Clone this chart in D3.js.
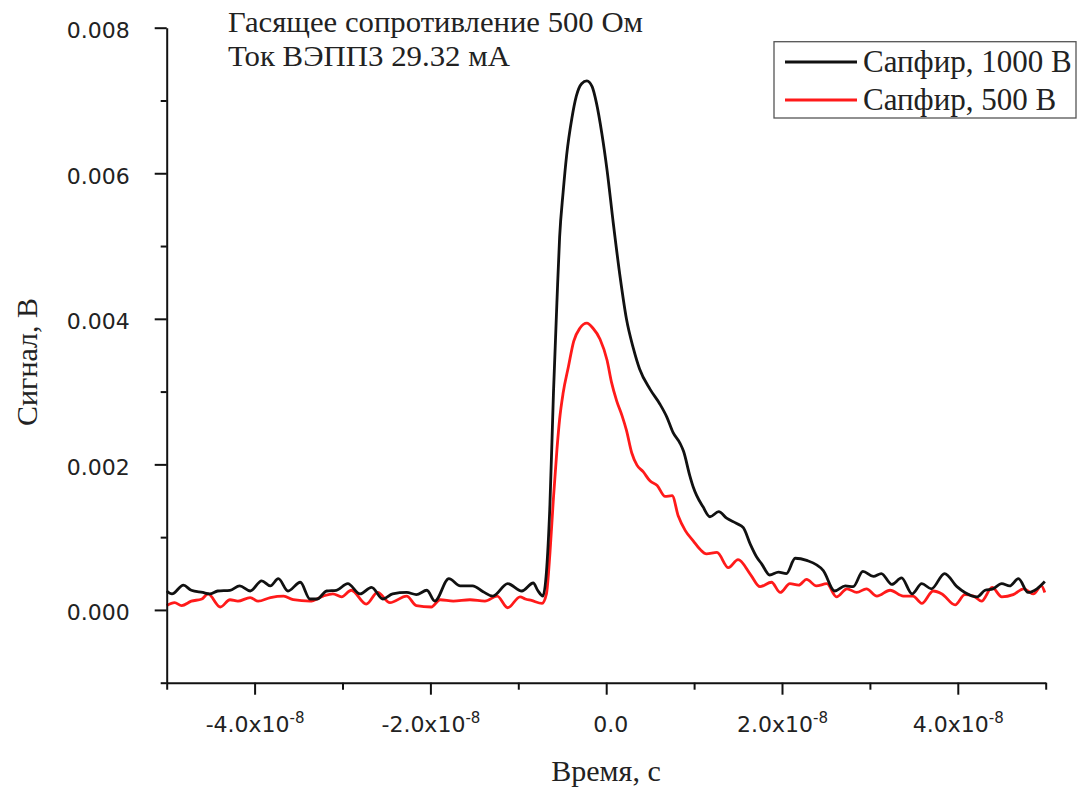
<!DOCTYPE html>
<html><head><meta charset="utf-8">
<script src="https://cdn.jsdelivr.net/npm/d3@7"></script>
<style>body{margin:0;background:#fff}</style>
</head><body>
<svg id="c" width="1083" height="793"></svg>
<script>
// time in ns, signal in mV
const time1000 = [-50.0,-49.4,-48.1,-47.2,-45.9,-45.1,-44.2,-42.8,-41.7,-40.5,-39.2,-38.2,-37.3,-36.2,-34.8,-33.7,-32.9,-31.8,-30.7,-29.4,-28.0,-26.7,-25.4,-24.3,-22.7,-21.6,-20.4,-19.5,-17.9,-16.6,-15.2,-14.0,-12.9,-11.2,-9.6,-8.3,-7.8,-7.2,-6.8,-6.4,-6.0,-5.6,-5.3,-4.9,-4.5,-3.9,-3.4,-2.8,-2.2,-1.6,-1.1,-0.5,0.1,0.8,1.6,2.3,3.1,3.8,5.0,6.1,6.9,7.6,8.4,8.8,9.5,9.9,10.3,11.0,11.8,12.8,13.7,14.8,15.6,16.4,17.1,17.7,18.6,19.6,20.5,21.5,22.8,24.7,26.0,27.2,28.1,29.2,30.4,31.3,32.5,33.6,34.8,35.9,37.0,38.5,39.9,40.8,42.2,43.1,44.0,45.0,45.9,46.9,48.0,49.0,49.9];
const signal1000 = [0.26,0.22,0.34,0.27,0.24,0.22,0.26,0.27,0.33,0.26,0.40,0.33,0.43,0.26,0.38,0.15,0.15,0.26,0.27,0.36,0.22,0.31,0.15,0.22,0.24,0.21,0.27,0.12,0.43,0.33,0.33,0.25,0.19,0.36,0.26,0.37,0.27,0.19,0.52,1.45,2.98,4.25,5.12,5.74,6.25,6.76,7.06,7.23,7.27,7.19,6.96,6.55,6.04,5.32,4.56,4.00,3.59,3.31,3.03,2.83,2.65,2.44,2.29,2.18,1.85,1.69,1.57,1.42,1.28,1.35,1.26,1.19,1.13,0.90,0.73,0.63,0.48,0.52,0.50,0.71,0.68,0.54,0.26,0.33,0.32,0.53,0.46,0.50,0.35,0.44,0.22,0.36,0.29,0.50,0.32,0.24,0.18,0.27,0.29,0.36,0.33,0.43,0.24,0.29,0.39];
const time500 = [-50.0,-49.1,-48.3,-47.2,-46.0,-45.3,-43.9,-42.8,-41.9,-40.5,-39.6,-38.2,-36.7,-35.6,-33.7,-32.2,-31.1,-30.1,-29.0,-27.3,-26.0,-24.6,-22.7,-21.6,-19.9,-18.9,-17.4,-15.5,-13.8,-12.4,-11.2,-9.8,-9.2,-8.5,-7.3,-6.8,-6.4,-6.0,-5.6,-5.3,-4.9,-4.3,-3.7,-3.0,-2.2,-1.5,-0.7,0.1,0.6,1.2,1.8,2.3,2.9,3.5,4.2,5.0,5.8,6.7,7.5,8.2,9.0,9.9,10.7,11.4,12.6,13.9,15.0,16.4,17.5,18.8,19.8,20.9,21.9,22.8,23.9,25.1,26.2,27.4,28.5,29.6,30.8,32.3,33.8,34.9,35.9,37.2,38.2,39.7,40.8,41.8,42.7,43.9,45.0,46.3,47.5,48.6,49.5,49.9];
const signal500 = [0.06,0.10,0.06,0.12,0.15,0.22,0.04,0.14,0.12,0.17,0.12,0.17,0.19,0.14,0.12,0.19,0.22,0.18,0.27,0.08,0.24,0.10,0.19,0.06,0.04,0.14,0.12,0.14,0.12,0.19,0.03,0.18,0.15,0.13,0.09,0.22,0.78,1.54,2.21,2.62,2.98,3.34,3.69,3.87,3.94,3.87,3.72,3.43,3.13,2.87,2.67,2.47,2.16,1.99,1.90,1.77,1.71,1.56,1.57,1.29,1.09,0.95,0.83,0.77,0.79,0.58,0.69,0.49,0.32,0.38,0.24,0.36,0.34,0.42,0.33,0.36,0.18,0.29,0.24,0.29,0.19,0.27,0.19,0.19,0.09,0.26,0.22,0.07,0.21,0.19,0.12,0.31,0.18,0.21,0.29,0.22,0.33,0.24];

const seriesNames = ["Сапфир, 1000 В", "Сапфир, 500 В"];
const seriesColors = ["#111111", "#ff1a1a"];
const annotationLines = ["Гасящее сопротивление 500 Ом", "Ток ВЭПП3 29.32 мА"];
const xTitle = "Время, с";
const yTitle = "Сигнал, В";
const xMajorNs = [-40, -20, 0, 20, 40];
const xMinorNs = [-50, -30, -10, 10, 30, 50];
const yMajorMV = [0, 2, 4, 6, 8];
const yMinorMV = [-1, 1, 3, 5, 7];

const svg = d3.select("#c");
const x = d3.scaleLinear().domain([-50, 50]).range([166.7, 1045.7]);
const y = d3.scaleLinear().domain([-1, 8]).range([682.7, 27.7]);

const tickFont = "'DejaVu Sans', Verdana, sans-serif";
const serif = "'Liberation Serif', 'Times New Roman', serif";

const line = d3.line().x(d => x(d[0])).y(d => y(d[1])).curve(d3.curveMonotoneX);
const series = [d3.zip(time1000, signal1000), d3.zip(time500, signal500)];
[1, 0].forEach(i => {
  svg.append("path").datum(series[i]).attr("d", line)
    .attr("fill", "none").attr("stroke", seriesColors[i])
    .attr("stroke-width", 2.8).attr("stroke-linejoin", "round");
});

// Y axis
const yMinor = svg.append("g").attr("transform", `translate(${x.range()[0]},0)`)
  .call(d3.axisLeft(y).tickValues(yMinorMV).tickSize(6).tickSizeOuter(0).tickFormat(""));
yMinor.select(".domain").remove();
const yAx = svg.append("g").attr("transform", `translate(${x.range()[0]},0)`)
  .call(d3.axisLeft(y).tickValues(yMajorMV).tickSize(12).tickSizeOuter(0).tickPadding(25)
    .tickFormat(d => (d / 1000).toFixed(3)));
yAx.selectAll("text").attr("font-family", tickFont).attr("font-size", 22).attr("fill", "#222").attr("dy", "0.45em");

// X axis
const xMinor = svg.append("g").attr("transform", `translate(0,${y.range()[0]})`)
  .call(d3.axisBottom(x).tickValues(xMinorNs).tickSize(7).tickSizeOuter(0).tickFormat(""));
xMinor.select(".domain").remove();
const xAx = svg.append("g").attr("transform", `translate(0,${y.range()[0]})`)
  .call(d3.axisBottom(x).tickValues(xMajorNs).tickSize(12).tickSizeOuter(0).tickFormat(""));
xAx.selectAll(".tick").each(function(d) {
  const t = d3.select(this).append("text").attr("y", 49).attr("text-anchor", "middle")
    .attr("font-family", tickFont).attr("font-size", 22).attr("fill", "#222");
  if (d === 0) { t.attr("x", 4).text("0.0"); }
  else {
    t.append("tspan").text((d / 10).toFixed(1) + "x10");
    t.append("tspan").attr("font-size", 15).attr("dy", -9).text("-8");
  }
});

svg.selectAll(".domain, .tick line").attr("stroke", "#111").attr("stroke-width", 2);

// axis titles
svg.append("text").attr("x", 606).attr("y", 781).attr("text-anchor", "middle")
  .attr("font-family", serif).attr("font-size", 30).attr("fill", "#222").text(xTitle);
svg.append("text").attr("transform", "translate(37,362) rotate(-90)").attr("text-anchor", "middle")
  .attr("font-family", serif).attr("font-size", 30).attr("fill", "#222").text(yTitle);

// annotation
const annoWidths = [415, 282];
annotationLines.forEach((s, i) => {
  svg.append("text").attr("x", 228).attr("y", 32 + i * 34)
    .attr("font-family", serif).attr("font-size", 29).attr("fill", "#222")
    .attr("textLength", annoWidths[i]).attr("lengthAdjust", "spacingAndGlyphs").text(s);
});

// legend
const lg = svg.append("g");
lg.append("rect").attr("x", 774).attr("y", 41.7).attr("width", 302).attr("height", 76.3)
  .attr("fill", "#fff").attr("stroke", "#555").attr("stroke-width", 1.3);
seriesNames.forEach((n, i) => {
  const yy = 62 + i * 38;
  lg.append("line").attr("x1", 785).attr("x2", 857).attr("y1", yy).attr("y2", yy)
    .attr("stroke", seriesColors[i]).attr("stroke-width", 2.8);
  lg.append("text").attr("x", 863).attr("y", yy + 10).attr("font-family", serif)
    .attr("font-size", 31).attr("fill", "#222").text(n);
});
</script>
</body></html>
